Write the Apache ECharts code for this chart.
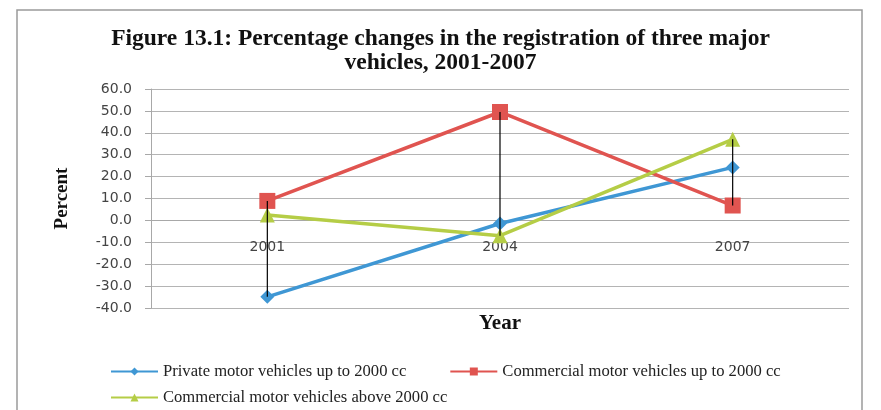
<!DOCTYPE html>
<html>
<head>
<meta charset="utf-8">
<script src="https://cdn.jsdelivr.net/npm/echarts@6/dist/echarts.min.js"></script>
<style>
  html, body { margin: 0; padding: 0; background: #fff; }
  #chart { width: 881px; height: 410px; }
</style>
</head>
<body>
<div id="chart"></div>
<script>
// data
const years = ["2001", "2004", "2007"];
const privateUpTo2000 = [-34.9, -1.4, 24.2];
const commercialUpTo2000 = [8.9, 49.5, 6.8];
const commercialAbove2000 = [2.5, -7.0, 37.0];
const seriesNames = [
  "Private motor vehicles up to 2000 cc",
  "Commercial motor vehicles up to 2000 cc",
  "Commercial motor vehicles above 2000 cc"
];
const yMin = -40, yMax = 60;

const allSeries = [privateUpTo2000, commercialUpTo2000, commercialAbove2000];
// high-low line per year
const highLow = years.map((y, i) => {
  const vals = allSeries.map(s => s[i]);
  return [i, Math.max(...vals), Math.min(...vals)];
});

const gridTop = 89, gridBottom = 102, chartH = 410;
const plotH = chartH - gridTop - gridBottom;
// the category axis sits at y = 0, as in the original
const zeroShift = plotH * (0 - yMin) / (yMax - yMin);

const chart = echarts.init(document.getElementById("chart"));
const serif = "Liberation Serif";
const legendText = { fontFamily: serif, fontSize: 16.6, color: "#222" };

chart.setOption({
  animation: false,
  title: {
    text: "Figure 13.1: Percentage changes in the registration of three major\nvehicles, 2001-2007",
    left: "center",
    top: 22,
    textStyle: { fontFamily: serif, fontWeight: "bold", fontSize: 23.5, lineHeight: 24, color: "#111" }
  },
  graphic: [{
    type: "rect",
    shape: { x: 17, y: 10, width: 845, height: 410 },
    style: { fill: "none", stroke: "#9a9a9a", lineWidth: 1.5 },
    silent: true
  }],
  legend: [
    {
      data: [seriesNames[0], seriesNames[1]],
      left: 105, top: 358,
      itemWidth: 47, itemHeight: 10, itemGap: 43,
      textStyle: legendText
    },
    {
      data: [seriesNames[2]],
      left: 105, top: 384,
      itemWidth: 47, itemHeight: 10,
      textStyle: legendText
    }
  ],
  grid: { left: 151, right: 32, top: gridTop, bottom: gridBottom },
  xAxis: {
    type: "category",
    data: years,
    offset: -zeroShift,
    name: "Year",
    nameLocation: "middle",
    nameGap: 93,
    nameMoveOverlap: false,
    nameTextStyle: { fontFamily: serif, fontWeight: "bold", fontSize: 21, color: "#111" },
    axisLine: { onZero: false, lineStyle: { color: "#a8a8a8" } },
    axisTick: { show: false },
    axisLabel: { margin: 20, fontFamily: "DejaVu Sans", fontSize: 14, color: "#444" }
  },
  yAxis: {
    type: "value",
    min: yMin, max: yMax, interval: 10,
    name: "Percent",
    nameLocation: "middle",
    nameGap: 79,
    nameTextStyle: { fontFamily: serif, fontWeight: "bold", fontSize: 19, color: "#111" },
    axisLine: { show: true, lineStyle: { color: "#a8a8a8" } },
    axisTick: { show: true, length: 6, lineStyle: { color: "#a8a8a8" } },
    axisLabel: { margin: 19, fontFamily: "DejaVu Sans", fontSize: 14, color: "#444",
      formatter: v => v.toFixed(1) },
    splitLine: { lineStyle: { color: "#b4b4b4" } }
  },
  series: [
    {
      name: seriesNames[0], type: "line", data: privateUpTo2000,
      symbol: "diamond", symbolSize: 14,
      itemStyle: { color: "#3f97d4" }, lineStyle: { width: 3.5 }
    },
    {
      name: seriesNames[1], type: "line", data: commercialUpTo2000,
      symbol: "rect", symbolSize: 16,
      itemStyle: { color: "#e05450" }, lineStyle: { width: 3.5 }
    },
    {
      name: seriesNames[2], type: "line", data: commercialAbove2000,
      symbol: "triangle", symbolSize: 15,
      itemStyle: { color: "#b5cd46" }, lineStyle: { width: 3.5 }
    },
    {
      type: "custom",
      z: 10,
      silent: true,
      data: highLow,
      renderItem: (params, api) => {
        const top = api.coord([api.value(0), api.value(1)]);
        const bottom = api.coord([api.value(0), api.value(2)]);
        return {
          type: "line",
          shape: { x1: top[0], y1: top[1], x2: bottom[0], y2: bottom[1] },
          style: { stroke: "#000", lineWidth: 1.2 }
        };
      }
    }
  ]
});
</script>
</body>
</html>
